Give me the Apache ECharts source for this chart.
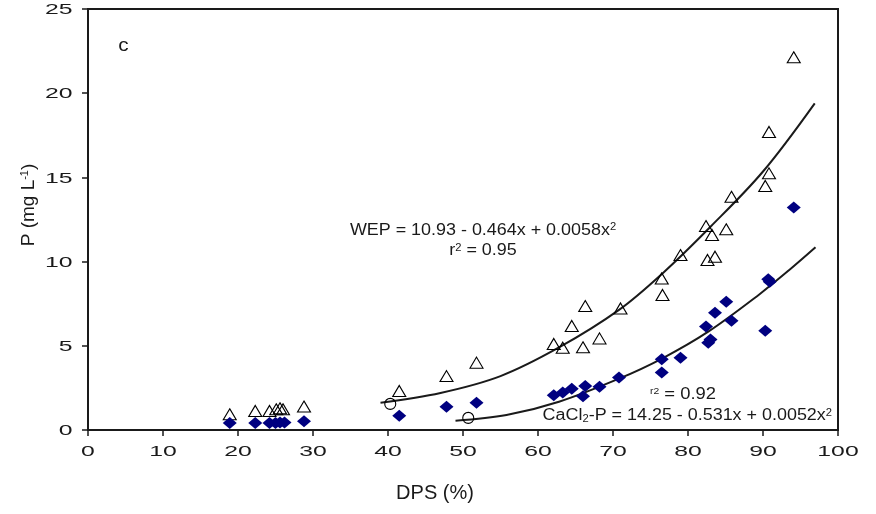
<!DOCTYPE html>
<html>
<head>
<meta charset="utf-8">
<script src="https://cdn.jsdelivr.net/npm/echarts@6/dist/echarts.min.js"></script>
<style>
  html, body { margin: 0; padding: 0; background: #ffffff; }
  #chart { width: 876px; height: 514px; }
</style>
</head>
<body>
<div id="chart"></div>
<script>
// Tick labels
const xTicks = [0, 10, 20, 30, 40, 50, 60, 70, 80, 90, 100];
const yTicks = [0, 5, 10, 15, 20, 25];

// Water-extractable P (open triangles)
const wepDps = [18.9, 22.3, 24.2, 25.1, 25.6, 26.0, 28.8, 41.5, 47.8, 51.8,
  62.1, 63.3, 64.5, 66.0, 66.3, 68.2, 71.0, 76.5, 76.6, 79.0,
  82.4, 82.6, 83.2, 83.6, 85.1, 85.8, 90.3, 90.8, 90.8, 94.1];
const wepP = [0.93, 1.13, 1.13, 1.23, 1.29, 1.23, 1.39, 2.32, 3.2, 4.0,
  5.11, 4.89, 6.18, 4.91, 7.36, 5.44, 7.22, 9.0, 8.02, 10.39,
  12.11, 10.1, 11.58, 10.29, 11.92, 13.85, 14.49, 15.24, 17.7, 22.13];

// CaCl2-extractable P (filled diamonds)
const cacl2Dps = [18.9, 22.3, 24.2, 25.0, 25.6, 26.2, 28.8, 41.5, 47.8, 51.8,
  62.1, 63.3, 64.5, 66.0, 66.3, 68.2, 70.8, 76.5, 76.5, 79.0,
  82.4, 82.7, 83.0, 83.6, 85.1, 85.8, 90.3, 90.7, 90.9, 94.1];
const cacl2P = [0.42, 0.42, 0.42, 0.42, 0.45, 0.45, 0.52, 0.85, 1.38, 1.62,
  2.06, 2.23, 2.45, 2.0, 2.61, 2.57, 3.12, 4.2, 3.42, 4.29,
  6.14, 5.18, 5.38, 6.97, 7.62, 6.49, 5.9, 8.95, 8.8, 13.22];

// Change-point markers (open circles)
const circleDps = [40.3, 50.7];
const circleP = [1.55, 0.72];

// Fitted quadratic curves
const wepFitDps = [39, 47, 55, 62.8, 70.8, 76.6, 83, 90, 96.9];
const wepFitP = [1.62, 2.2, 3.2, 4.9, 7.13, 9.3, 12.07, 15.35, 19.4];
const cacl2FitDps = [49, 55.8, 62.8, 70.8, 76.6, 82.7, 89.5, 93.5, 97];
const cacl2FitP = [0.55, 0.89, 1.68, 3.05, 4.26, 5.84, 8.05, 9.5, 10.85];

const FONT = '"Liberation Sans", Arial, Helvetica, sans-serif';
const INK = '#1a1a1a';
const pairs = (xs, ys) => xs.map((x, i) => [x, ys[i]]);

const chart = echarts.init(document.getElementById('chart'), null, { renderer: 'canvas' });

chart.setOption({
  animation: false,
  backgroundColor: '#ffffff',
  grid: { left: 88, right: 38, top: 9, bottom: 84, show: true, borderColor: INK, borderWidth: 2 },
  xAxis: {
    type: 'value', min: 0, max: 100, interval: 10,
    axisLine: { onZero: false, lineStyle: { color: INK, width: 2 } },
    axisTick: { length: 6, lineStyle: { color: INK, width: 1.5 } },
    axisLabel: { show: false },
    splitLine: { show: false },
    name: 'DPS (%)', nameLocation: 'middle', nameGap: 53,
    nameTextStyle: { fontFamily: FONT, fontSize: 20, color: INK, padding: [0, 56, 0, 0] }
  },
  yAxis: {
    type: 'value', min: 0, max: 25, interval: 5,
    axisLine: { onZero: false, lineStyle: { color: INK, width: 2 } },
    axisTick: { length: 6, lineStyle: { color: INK, width: 1.5 } },
    axisLabel: { show: false },
    splitLine: { show: false },
    name: 'P (mg L{sup|-1})', nameLocation: 'middle', nameGap: 50,
    nameTextStyle: {
      fontFamily: FONT, fontSize: 19, color: INK, padding: [0, 0, 0, 29],
      rich: { sup: { fontFamily: FONT, fontSize: 11, color: INK, verticalAlign: 'top' } }
    }
  },
  series: [
    {
      name: 'WEP fit', type: 'line', data: pairs(wepFitDps, wepFitP),
      smooth: 0.35, showSymbol: false, silent: true, z: 2,
      lineStyle: { color: '#1a1a1a', width: 2 }
    },
    {
      name: 'CaCl2-P fit', type: 'line', data: pairs(cacl2FitDps, cacl2FitP),
      smooth: 0.35, showSymbol: false, silent: true, z: 2,
      lineStyle: { color: '#1a1a1a', width: 2 }
    },
    {
      name: 'WEP', type: 'scatter', data: pairs(wepDps, wepP),
      symbol: 'triangle', symbolSize: [13, 11], z: 3,
      itemStyle: { color: 'rgba(255,255,255,0)', borderColor: '#000000', borderWidth: 1.1, opacity: 1 }
    },
    {
      name: 'CaCl2-P', type: 'scatter', data: pairs(cacl2Dps, cacl2P),
      symbol: 'diamond', symbolSize: [14, 12], z: 4,
      itemStyle: { color: '#000080', opacity: 1 }
    },
    {
      name: 'Change point', type: 'scatter', data: pairs(circleDps, circleP),
      symbol: 'circle', symbolSize: 11, z: 3,
      itemStyle: { color: 'rgba(255,255,255,0)', borderColor: '#000000', borderWidth: 1.1, opacity: 1 }
    }
  ]
});

// Tick labels and annotations are laid out from the axes' own pixel mapping.
function txt(x, y, text, opts) {
  const o = opts || {};
  return {
    type: 'text', x: x, y: y, scaleX: o.scaleX || 1, silent: true, z: 10,
    style: {
      text: text, fontFamily: FONT, fontSize: o.fontSize || 16, fill: INK,
      align: o.align || 'center', textAlign: o.align || 'center',
      verticalAlign: 'middle', textVerticalAlign: 'middle',
      rich: o.rich
    }
  };
}

const elements = [];
xTicks.forEach(v => {
  const p = chart.convertToPixel({ gridIndex: 0 }, [v, 0]);
  elements.push(txt(p[0], p[1] + 21.5, String(v), { fontSize: 15.5, scaleX: 1.6 }));
});
yTicks.forEach(v => {
  const p = chart.convertToPixel({ gridIndex: 0 }, [0, v]);
  elements.push(txt(p[0] - 15.5, p[1] + 1, String(v), { fontSize: 15.5, scaleX: 1.6, align: 'right' }));
});

const supRich = {
  sup: { fontFamily: FONT, fontSize: 10, fill: INK, verticalAlign: 'top' },
  sub: { fontFamily: FONT, fontSize: 10, fill: INK, verticalAlign: 'bottom' },
  tiny: { fontFamily: FONT, fontSize: 9, fill: INK, verticalAlign: 'top' }
};

elements.push(txt(123.5, 46, 'c', { fontSize: 18, scaleX: 1.15 }));
elements.push(txt(483, 230.5, 'WEP = 10.93 - 0.464x + 0.0058x{sup|2}', { fontSize: 16, scaleX: 1.12, rich: supRich }));
elements.push(txt(483, 251, 'r{sup|2} = 0.95', { fontSize: 16, scaleX: 1.12, rich: supRich }));
elements.push(txt(650, 395, '{tiny|r2} = 0.92', { fontSize: 16, scaleX: 1.15, align: 'left', rich: supRich }));
elements.push(txt(832, 416, 'CaCl{sub|2}-P = 14.25 - 0.531x + 0.0052x{sup|2}', { fontSize: 16, scaleX: 1.12, align: 'right', rich: supRich }));

chart.setOption({ graphic: { elements: elements } });
</script>
</body>
</html>
